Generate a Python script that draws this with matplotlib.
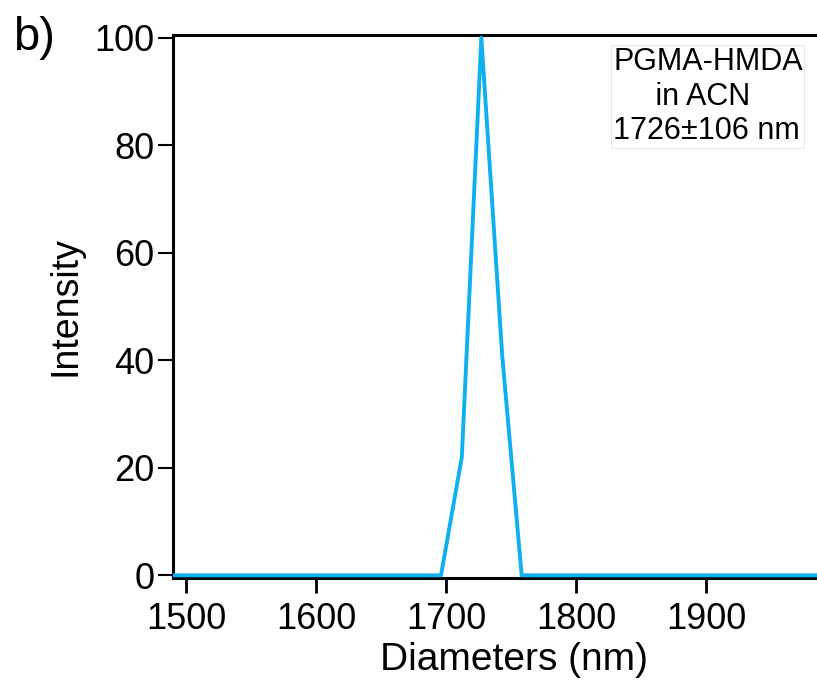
import matplotlib.pyplot as plt

plt.rcParams['font.family'] = ['Liberation Sans', 'DejaVu Sans']

# DLS size distribution
diameters = [1490, 1696, 1712, 1727, 1743, 1758, 1985]
intensity = [0, 0, 22, 100, 41, 0, 0]

xticks = [1500, 1600, 1700, 1800, 1900]
yticks = [0, 20, 40, 60, 80, 100]

fig = plt.figure(figsize=(8.17, 6.88), dpi=100)
ax = fig.add_axes([173/817, 1 - 578/688, 1 - 173/817, (578 - 35)/688])

ax.plot(diameters, intensity, color='#10b0f0', lw=2.8, zorder=3)

ax.set_xlim(1490, 1985)
ax.set_ylim(-0.5, 100.5)
ax.set_xticks(xticks)
ax.set_yticks(yticks)
ax.spines['right'].set_visible(False)
for s in ['left', 'bottom', 'top']:
    ax.spines[s].set_linewidth(2.2)
ax.tick_params(axis='x', direction='out', length=11, width=2, labelsize=26, pad=6)
ax.tick_params(axis='y', direction='out', length=10.5, width=1.5, labelsize=26, pad=3)

ax.set_xlabel('Diameters (nm)', fontsize=28, labelpad=4)
ax.xaxis.label.set_x((514 - 173) / 644)
ax.set_ylabel('Intensity', fontsize=27, labelpad=8)

fig.text(613/817, 1 - 47/688, 'PGMA-HMDA\n     in ACN\n1726±106 nm',
         ha='left', va='top', fontsize=22, linespacing=1.2,
         bbox=dict(facecolor='white', edgecolor='#e8e8e8', lw=0.8, pad=1))

fig.text(13/817, 1 - 38/688, 'b)', fontsize=34, va='center')

plt.savefig('out.png')
